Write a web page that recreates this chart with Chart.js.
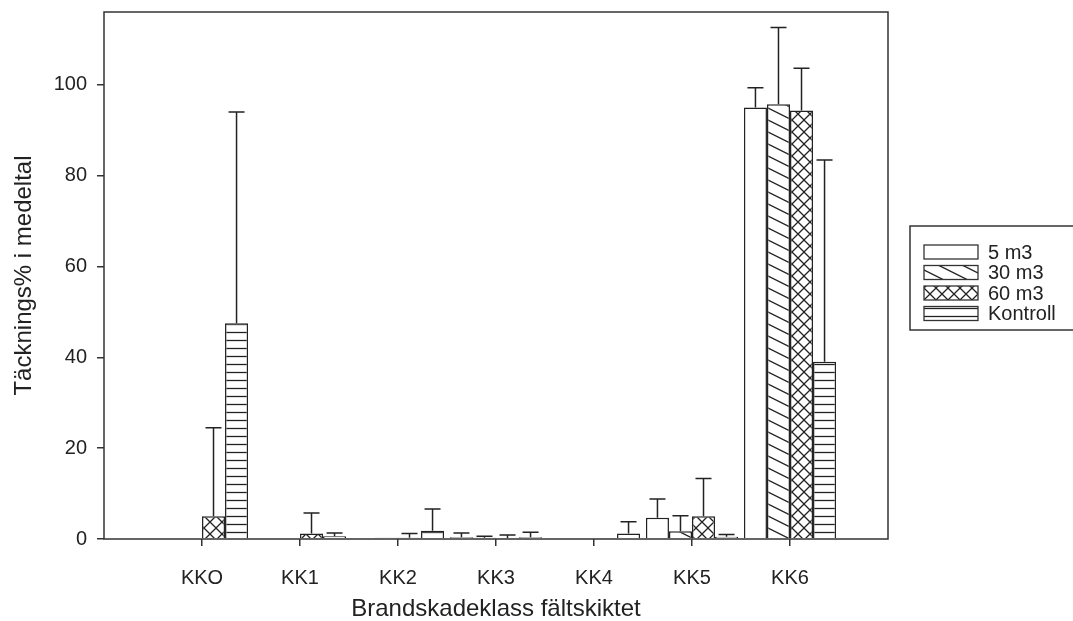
<!DOCTYPE html>
<html>
<head>
<meta charset="utf-8">
<script src="https://cdn.jsdelivr.net/npm/chart.js@4.4.1/dist/chart.umd.min.js"></script>
<style>
  html, body { margin: 0; padding: 0; background: #fff; }
  #wrap { width: 1073px; height: 621px; position: relative; }
</style>
</head>
<body>
<div id="wrap"><canvas id="chart"></canvas></div>
<script>
// values (mean and the upward error = sd)
const categories = ['KKO', 'KK1', 'KK2', 'KK3', 'KK4', 'KK5', 'KK6'];
const seriesNames = ['5 m3', '30 m3', '60 m3', 'Kontroll'];
const mean5 = [0, 0, 0.1, 0.4, 0, 4.7, 95.0];
const sd5 = [0, 0, 0, 0.9, 0, 4.1, 4.3];
const mean30 = [0, 0, 0.3, 0.3, 0, 1.7, 95.7];
const sd30 = [0, 0, 0, 0.3, 0, 3.4, 16.9];
const mean60 = [5.0, 1.2, 0.3, 0.2, 0.2, 5.0, 94.3];
const sd60 = [19.5, 4.5, 0.9, 0.7, 0, 8.3, 9.3];
const meanCtrl = [47.5, 0.6, 1.8, 0.4, 1.2, 0.5, 39.0];
const sdCtrl = [46.5, 0.7, 4.8, 1.1, 2.6, 0.5, 44.4];
const yTicks = [0, 20, 40, 60, 80, 100];

const FONT = "'Liberation Sans', Arial, sans-serif";
const INK = '#222';

// empty slot at each end so the groups sit like in the original
const xLabels = ['', ...categories, ''];
const pad = arr => [null, ...arr, null];

function makePattern(kind) {
  if (kind === 'plain') return '#ffffff';
  const c = document.createElement('canvas');
  const g = c.getContext('2d');
  if (kind === 'diag') { c.width = 24; c.height = 12; }
  if (kind === 'cross') { c.width = 12; c.height = 12; }
  if (kind === 'horiz') { c.width = 8; c.height = 8; }
  g.fillStyle = '#fff';
  g.fillRect(0, 0, c.width, c.height);
  g.strokeStyle = INK;
  g.lineWidth = 1.3;
  g.beginPath();
  if (kind === 'diag') {
    for (const k of [-1, 0, 1]) {
      g.moveTo(-2, -1 + k * 12);
      g.lineTo(26, 13 + k * 12);
    }
  } else if (kind === 'cross') {
    g.moveTo(-1, -1); g.lineTo(13, 13);
    g.moveTo(-1, 13); g.lineTo(13, -1);
  } else if (kind === 'horiz') {
    g.moveTo(0, 4.5); g.lineTo(8, 4.5);
  }
  g.stroke();
  return g.createPattern(c, 'repeat');
}

const fills = [makePattern('plain'), makePattern('diag'), makePattern('cross'), makePattern('horiz')];
const means = [mean5, mean30, mean60, meanCtrl];
const sds = [sd5, sd30, sd60, sdCtrl];

const errorBars = {
  id: 'errorBars',
  afterDatasetsDraw(chart) {
    const ctx = chart.ctx;
    const y = chart.scales.y;
    ctx.save();
    ctx.strokeStyle = INK;
    ctx.lineWidth = 1.5;
    chart.data.datasets.forEach((ds, i) => {
      const meta = chart.getDatasetMeta(i);
      meta.data.forEach((bar, j) => {
        const m = ds.data[j];
        const sd = ds.sd[j];
        if (m == null || !sd) return;
        const top = y.getPixelForValue(m + sd);
        ctx.beginPath();
        ctx.moveTo(bar.x, bar.y);
        ctx.lineTo(bar.x, top);
        ctx.moveTo(bar.x - 8, top);
        ctx.lineTo(bar.x + 8, top);
        ctx.stroke();
      });
    });
    ctx.restore();
  }
};

const frame = {
  id: 'frame',
  afterDraw(chart) {
    const a = chart.chartArea;
    const ctx = chart.ctx;
    ctx.save();
    ctx.strokeStyle = '#333';
    ctx.lineWidth = 1.5;
    ctx.strokeRect(a.left, a.top, a.right - a.left, a.bottom - a.top);
    ctx.restore();
  }
};

// legend box sits partly off the right edge, as in the original
const boxLegend = {
  id: 'boxLegend',
  afterDraw(chart) {
    const ctx = chart.ctx;
    const a = chart.chartArea;
    const left = a.right + 22, top = 226, rowH = 20.5;
    ctx.save();
    ctx.strokeStyle = '#333';
    ctx.lineWidth = 1.5;
    ctx.strokeRect(left, top, 200, 104);
    ctx.font = '20px ' + FONT;
    ctx.textBaseline = 'middle';
    ctx.fillStyle = INK;
    chart.data.datasets.forEach((ds, i) => {
      const cy = top + 26 + i * rowH;
      ctx.fillStyle = ds.backgroundColor;
      ctx.fillRect(left + 14, cy - 7, 54, 14);
      ctx.lineWidth = 1.3;
      ctx.strokeRect(left + 14, cy - 7, 54, 14);
      ctx.fillStyle = INK;
      ctx.fillText(ds.label, left + 78, cy + 1);
    });
    ctx.restore();
  }
};

new Chart(document.getElementById('chart'), {
  type: 'bar',
  data: {
    labels: xLabels,
    datasets: seriesNames.map((name, i) => ({
      label: name,
      data: pad(means[i]),
      sd: pad(sds[i]),
      backgroundColor: fills[i],
      borderColor: INK,
      borderWidth: 1.5,
      categoryPercentage: 0.94,
      barPercentage: 1.0
    }))
  },
  options: {
    responsive: true,
    maintainAspectRatio: false,
    animation: false,
    layout: { padding: { top: 12, right: 185, bottom: 0, left: 0 } },
    plugins: {
      legend: { display: false },
      tooltip: { enabled: false }
    },
    scales: {
      x: {
        offset: false,
        grid: {
          offset: false,
          drawOnChartArea: false,
          tickLength: 7,
          lineWidth: 1.5,
          tickColor: c => (c.index === 0 || c.index === xLabels.length - 1) ? 'rgba(0,0,0,0)' : '#333'
        },
        border: { display: false },
        ticks: {
          autoSkip: false,
          maxRotation: 0,
          padding: 20,
          color: INK,
          font: { family: FONT, size: 20 }
        },
        title: {
          display: true,
          text: 'Brandskadeklass fältskiktet',
          color: INK,
          font: { family: FONT, size: 24 },
          padding: { top: 0, bottom: -3 }
        },
        afterFit: s => { s.height = 82; }
      },
      y: {
        min: 0,
        max: 116,
        afterBuildTicks: s => { s.ticks = yTicks.map(v => ({ value: v })); },
        grid: {
          drawOnChartArea: false,
          tickLength: 7,
          lineWidth: 1.5,
          color: '#333'
        },
        border: { display: false },
        ticks: {
          padding: 10,
          color: INK,
          font: { family: FONT, size: 20 }
        },
        title: {
          display: true,
          text: 'Täcknings% i medeltal',
          color: INK,
          font: { family: FONT, size: 24 },
          padding: { top: 10, bottom: 0 }
        },
        afterFit: s => {
          s.width = 104;
          s.paddingTop = 0;
          s.paddingBottom = 0;
        }
      }
    }
  },
  plugins: [errorBars, frame, boxLegend]
});
</script>
</body>
</html>
